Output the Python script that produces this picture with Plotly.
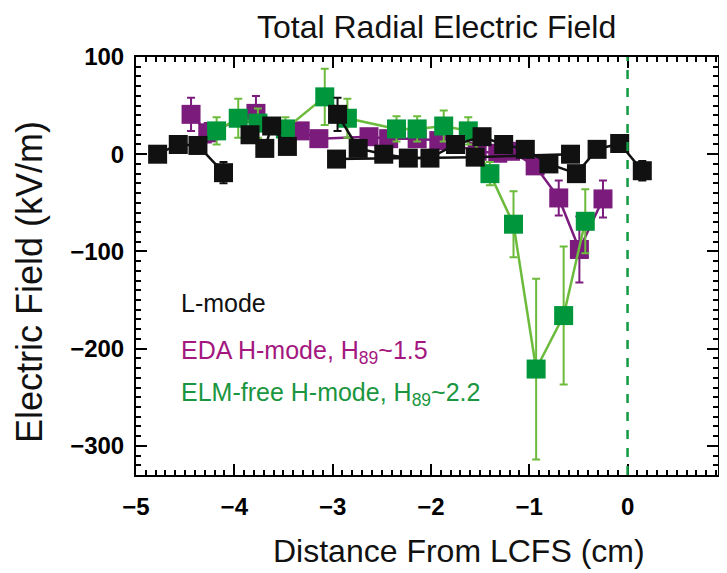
import plotly.graph_objects as go

# L-mode (black), several profiles
lmode_a_x = [-4.78, -4.57, -4.37, -4.11]
lmode_a_y = [0, 10, 9, -19]
lmode_a_err = [4, 4, 4, 11]

lmode_b_x = [-3.84, -3.69, -3.62, -3.46]
lmode_b_y = [20, 6, 29, 8]
lmode_b_err = [5, 5, 5, 5]

lmode_c_x = [-2.95, -2.74, -2.48, -2.23, -2.01, -1.75, -1.48, -1.26, -1.04, -0.80, -0.52, -0.31, -0.08, 0.15]
lmode_c_y = [41, 6, 0, -4, -4, 10, 18, 10, 5, -10, -20, 5, 11, -17]
lmode_c_err = [17, 5, 5, 5, 5, 5, 5, 5, 5, 5, 5, 5, 5, 10]

lmode_d_x = [-2.96, -1.55, -0.58]
lmode_d_y = [-5, -3, 0]
lmode_d_err = [4, 4, 4]

# EDA H-mode (purple)
eda_x = [-4.44, -4.27, -3.78, -3.33, -3.14, -2.63, -2.43, -2.14, -1.92, -1.53, -1.32, -1.19, -0.94, -0.70, -0.49, -0.25]
eda_y = [41, 22, 42, 24, 16, 18, 16, 16, 14, 3, 1, 3, -12, -45, -98, -46]
eda_err = [17, 10, 18, 8, 8, 8, 8, 8, 8, 8, 8, 8, 8, 18, 34, 19]

# ELM-free H-mode (green)
elm_x = [-4.18, -3.96, -3.76, -3.48, -3.08, -2.85, -2.35, -2.14, -1.87, -1.62, -1.40, -1.16, -0.93, -0.65, -0.43]
elm_y = [24, 37, 32, 26, 59, 37, 26, 26, 29, 24, -20, -72, -221, -166, -69]
elm_err = [14, 20, 15, 12, 29, 20, 13, 13, 16, 14, 12, 34, 93, 71, 33]

x_ticks = [-5, -4, -3, -2, -1, 0]
y_ticks = [100, 0, -100, -200, -300]

BLACK = "#111111"
PURPLE = "#7b1c7d"
GREEN = "#00963c"
LGREEN = "#6cbb3c"

fig = go.Figure()


def add_series(x, y, err, mcolor, lcolor, ecolor):
    fig.add_trace(go.Scatter(
        x=x, y=y, mode="lines+markers",
        line=dict(color=lcolor, width=2.5),
        marker=dict(symbol="square", size=19, color=mcolor, line=dict(width=0)),
        error_y=dict(type="data", array=err, visible=True, color=ecolor, thickness=2, width=4),
        showlegend=False, cliponaxis=True,
    ))


add_series(eda_x, eda_y, eda_err, PURPLE, PURPLE, PURPLE)
add_series(elm_x, elm_y, elm_err, GREEN, LGREEN, LGREEN)
for xs, ys, es in [(lmode_a_x, lmode_a_y, lmode_a_err), (lmode_b_x, lmode_b_y, lmode_b_err),
                   (lmode_d_x, lmode_d_y, lmode_d_err), (lmode_c_x, lmode_c_y, lmode_c_err)]:
    add_series(xs, ys, es, BLACK, BLACK, BLACK)

# LCFS dashed line
fig.add_shape(type="line", x0=0, x1=0, y0=0, y1=1, xref="x", yref="paper",
              line=dict(color="#109a40", width=2.5, dash="dash"))


def fmt(v):
    return str(v).replace("-", "\u2212")


tickfont = dict(family="Liberation Sans, Arial, sans-serif", size=24, color="black", weight="bold")

fig.update_xaxes(
    range=[-5, 0.92], tickvals=x_ticks, ticktext=[fmt(v) for v in x_ticks],
    ticks="inside", ticklen=11, tickwidth=2, tickcolor="black",
    minor=dict(dtick=0.1, tick0=0, ticks="inside", ticklen=5, tickwidth=1.5, tickcolor="black"),
    showline=True, linecolor="black", linewidth=2, mirror="allticks",
    showgrid=False, zeroline=False, tickfont=tickfont, ticklabelstandoff=9,
)
fig.update_yaxes(
    range=[-330, 100], tickvals=y_ticks, ticktext=[fmt(v) for v in y_ticks],
    ticks="inside", ticklen=11, tickwidth=2, tickcolor="black",
    minor=dict(dtick=10, tick0=0, ticks="inside", ticklen=5, tickwidth=1.5, tickcolor="black"),
    showline=True, linecolor="black", linewidth=2, mirror="allticks",
    showgrid=False, zeroline=False, tickfont=tickfont, ticklabelstandoff=5,
)

regular = "Liberation Sans, Arial, sans-serif"
annos = [
    dict(text="Total Radial Electric Field", x=0.517, y=1.072, xref="paper", yref="paper",
         font=dict(family=regular, size=32, color="#111"), showarrow=False, xanchor="center", yanchor="middle"),
    dict(text="Distance From LCFS (cm)", x=0.555, y=-0.182, xref="paper", yref="paper",
         font=dict(family=regular, size=32, color="#111"), showarrow=False, xanchor="center", yanchor="middle"),
    dict(text="Electric Field (kV/m)", x=-0.182, y=0.462, xref="paper", yref="paper", textangle=-90,
         font=dict(family=regular, size=36, color="#111"), showarrow=False, xanchor="center", yanchor="middle"),
    dict(text="1", x=1.0137, y=-0.07, xref="paper", yref="paper",
         font=tickfont, showarrow=False, xanchor="center", yanchor="middle"),
    dict(text="L-mode", x=179, y=-153, xref="x", yref="y",
         font=dict(family=regular, size=25, color="#111"), showarrow=False, xanchor="left", yanchor="middle"),
    dict(text="EDA H-mode, H<sub>89</sub>~1.5", x=179, y=-203, xref="x", yref="y",
         font=dict(family=regular, size=25, color="#a3177f"), showarrow=False, xanchor="left", yanchor="middle"),
    dict(text="ELM-free H-mode, H<sub>89</sub>~2.2", x=179, y=-247, xref="x", yref="y",
         font=dict(family=regular, size=25, color="#1a9640"), showarrow=False, xanchor="left", yanchor="middle"),
]
# convert legend x pixel positions to data coords
for a in annos[4:]:
    a["x"] = -5 + (a["x"] - 136) / 582 * 5.92

# page body has an 8px margin; compensate so the plot frame lands at 136..718, 57..475
fig.update_layout(
    width=727, height=573,
    margin=dict(l=128, r=17, t=49, b=106),
    plot_bgcolor="white", paper_bgcolor="white",
    annotations=annos, showlegend=False,
)

fig.write_html("out.html")
